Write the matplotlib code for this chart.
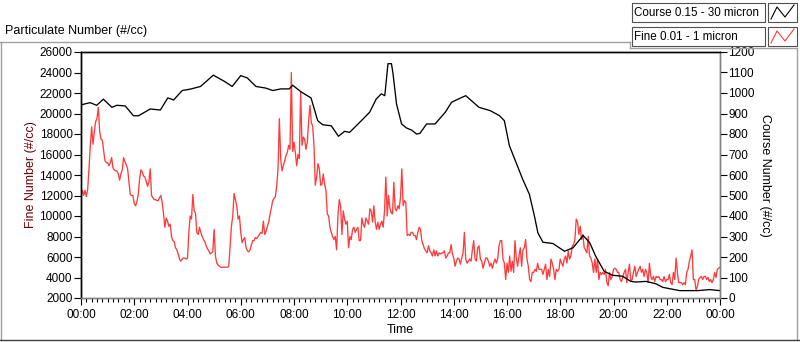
"""
Particulate number over one day: fine (left axis) and course (right axis).
Rendered with the Agg backend to out.png (800x342).
"""

import matplotlib
matplotlib.use("Agg")
import matplotlib.pyplot as plt
import numpy as np
from matplotlib.lines import Line2D
from matplotlib.patches import Rectangle
from matplotlib.ticker import MultipleLocator

plt.rcParams["font.family"] = ["Liberation Sans", "DejaVu Sans"]

# fine particles 0.01 - 1 micron, one reading every 3 minutes from 00:00
fine_step_min = 3
fine_values = [
    12000, 12500, 12000, 12500, 11900, 12600, 14600, 16900, 18700, 17000, 18200, 19200, 19500, 20600, 18300, 17500,
    17400, 16400, 15400, 15200, 15200, 14900, 15200, 15700, 14700, 14500, 14400, 14400, 14100, 13500, 14100, 14500,
    15700, 15300, 15000, 14600, 13400, 12100, 12000, 12000, 11200, 11000, 11400, 12100, 13600, 14500, 14300, 13900,
    13800, 13400, 12900, 13300, 14600, 12000, 11800, 11600, 11600, 11500, 11500, 11800, 12000, 11300, 10200, 8900,
    9800, 9500, 9000, 9200, 8000, 7600, 7500, 6900, 6700, 6300, 5800, 5600, 5800, 5900, 5900, 5800,
    5900, 8400, 10000, 9700, 12100, 10500, 10300, 8400, 8200, 8900, 8400, 8000, 7700, 7500, 7100, 6800,
    6600, 6300, 6400, 6500, 8700, 6100, 5400, 5200, 5100, 5000, 5000, 5000, 5000, 5000, 5000, 5100,
    7100, 9000, 10000, 12200, 11600, 11000, 9700, 10000, 8400, 7400, 7700, 7900, 6900, 6600, 6500, 6700,
    7200, 7600, 7600, 7900, 7800, 8000, 8200, 8400, 8300, 9500, 8200, 8500, 9000, 9400, 10200, 10800,
    11500, 11700, 11900, 12900, 14600, 19500, 15600, 14400, 14900, 15400, 15900, 16200, 16900, 16500, 24000, 16300,
    17200, 16200, 14900, 16000, 15600, 22100, 16900, 17700, 17500, 16500, 17200, 19300, 20800, 19100, 18800, 16900,
    13000, 13800, 15100, 14600, 13000, 13100, 14100, 13100, 12500, 10200, 10000, 8900, 8400, 8000, 7700, 8000,
    6700, 10000, 11600, 11000, 8200, 10500, 9700, 9200, 9500, 6900, 8000, 7700, 8700, 8900, 8400, 8700,
    8900, 7600, 7600, 9800, 9200, 8900, 9800, 9500, 9200, 10700, 10500, 9400, 11000, 9400, 8700, 9400,
    8700, 9200, 9500, 8900, 10500, 13800, 10000, 12000, 10800, 10300, 10200, 13300, 10700, 10500, 11000, 10700,
    11800, 14600, 11000, 11500, 11300, 8100, 8200, 8100, 8400, 8400, 8100, 8100, 7700, 8400, 8900, 8700,
    7600, 7200, 6800, 6600, 6400, 7100, 6600, 6400, 6100, 6700, 6100, 6600, 6100, 6400, 6300, 6400,
    6400, 6600, 5900, 6100, 6400, 6400, 7200, 6300, 5900, 5100, 5600, 5900, 5800, 5300, 5900, 6400,
    8400, 5800, 5400, 5600, 5800, 5600, 6700, 7600, 5800, 5600, 6900, 7100, 5800, 5600, 4900, 5400,
    5900, 5900, 5600, 5100, 5400, 4900, 5400, 5800, 5400, 5800, 7100, 7600, 7600, 5800, 5400, 3800,
    5400, 4500, 6100, 4600, 5600, 4500, 7600, 5800, 5100, 6100, 6900, 5100, 6700, 6900, 7700, 5800,
    5100, 3800, 3600, 4500, 4500, 4800, 4600, 5400, 4800, 4800, 4800, 4300, 4800, 5300, 3800, 4800,
    4100, 5800, 5400, 4800, 3800, 4800, 4600, 4800, 5800, 5400, 5100, 5800, 6100, 5400, 6600, 5800,
    6100, 7100, 7200, 7700, 9700, 9400, 8200, 9000, 7700, 8200, 6900, 6700, 6400, 8000, 6100, 5900,
    5400, 4500, 5800, 4500, 5800, 3800, 4500, 4300, 4500, 4300, 4800, 3500, 3200, 4500, 3800, 4100,
    4800, 4900, 4800, 4500, 4500, 3800, 3600, 4100, 4500, 4800, 3500, 4500, 5300, 3600, 3800, 4500,
    5100, 4100, 4500, 4800, 5100, 4500, 4800, 4100, 4800, 4500, 3500, 5400, 4100, 3800, 4100, 3600,
    4100, 4000, 4100, 3800, 3800, 3600, 4100, 3600, 3800, 3800, 4300, 3500, 3300, 4500, 3800, 5900,
    4500, 3500, 3500, 3500, 3300, 3500, 3300, 4500, 4800, 5600, 6100, 6700, 3800, 3800, 2800, 3100,
    3800, 4000, 4100, 3800, 4100, 4100, 3800, 4000, 3600, 3800, 3500, 3800, 4500, 4000, 4800, 4900,
    5000,
]

# course particles 0.15 - 30 micron (hour of day, #/cc)
course_hours = [
    0.00, 0.34, 0.59, 0.84, 1.16, 1.35, 1.66, 1.97, 2.16, 2.60, 2.98, 3.26, 3.48, 3.80, 4.11, 4.49,
    4.97, 5.37, 5.68, 6.00, 6.25, 6.57, 6.94, 7.20, 7.51, 7.82, 7.95, 8.26, 8.64, 8.89, 9.08, 9.40,
    9.67, 9.90, 10.09, 10.53, 10.84, 11.09, 11.28, 11.41, 11.53, 11.66, 11.72, 11.85, 12.04, 12.23, 12.42, 12.60,
    12.73, 12.98, 13.30, 13.68, 13.92, 14.18, 14.45, 14.95, 15.37, 15.71, 15.90, 16.09, 16.34, 16.59, 16.84, 17.03,
    17.16, 17.35, 17.72, 18.16, 18.48, 18.86, 19.11, 19.33, 19.65, 19.96, 20.34, 20.65, 20.84, 21.22, 21.60, 21.85,
    22.48, 23.17, 23.61, 24.00,
]
course_values = [
    942, 953, 940, 970, 930, 940, 937, 889, 889, 922, 917, 976, 966, 1012, 1019, 1032,
    1087, 1058, 1032, 1085, 1073, 1032, 1024, 1012, 1020, 1020, 1038, 1006, 976, 865, 845, 840,
    789, 813, 808, 865, 906, 971, 996, 987, 1143, 1143, 1094, 947, 849, 829, 819, 800,
    803, 849, 849, 906, 955, 971, 987, 930, 914, 890, 865, 743, 661, 579, 506, 400,
    318, 272, 266, 228, 245, 305, 269, 204, 130, 111, 106, 81, 78, 81, 69, 52,
    36, 36, 41, 36,
]

time_ticks = list(range(0, 25, 2))
time_labels = ["00:00", "02:00", "04:00", "06:00", "08:00", "10:00", "12:00",
               "14:00", "16:00", "18:00", "20:00", "22:00", "00:00"]
fine_ticks = list(range(2000, 26001, 2000))
course_ticks = list(range(0, 1201, 100))

W, H = 800, 342
fig = plt.figure(figsize=(W / 100, H / 100), dpi=100)
fig.patch.set_facecolor("white")


def fx(x):
    # 像素 -> figure 坐标
    return x / W


def fy(y):
    return 1 - y / H


def frame_line(x0, y0, x1, y1, color, lw=1.0):
    fig.add_artist(Line2D([fx(x0), fx(x1)], [fy(y0), fy(y1)], transform=fig.transFigure,
                          color=color, lw=lw))


# outer panel frame
frame_line(0, 42, 630, 42, "#a0a0a0")
frame_line(1, 42, 1, 340, "#a0a0a0")
frame_line(630, 42, 630, 48, "#a0a0a0")
frame_line(630, 48, 797, 48, "#a0a0a0")
frame_line(797, 48, 797, 340, "#a0a0a0")
frame_line(0, 340, 800, 340, "#404040")

fig.text(fx(5), fy(31), "Particulate Number (#/cc)", fontsize=9, ha="left", va="center")

ax = fig.add_axes([fx(81), fy(298), fx(720) - fx(81), fy(52) - fy(298)])
fine_hours = np.arange(len(fine_values)) * fine_step_min / 60
ax.plot(fine_hours, fine_values, color="#ff3b3b", lw=0.95)
ax.set_xlim(0, 24)
ax.set_ylim(2000, 26000)
ax.set_yticks(fine_ticks)
ax.set_xticks(time_ticks)
ax.set_xticklabels(time_labels)
ax.xaxis.set_minor_locator(MultipleLocator(0.2))
ax.tick_params(axis="y", direction="out", length=5, width=0.8, pad=1, labelsize=8.5)
ax.tick_params(axis="x", which="major", direction="out", length=5, width=0.8, pad=3, labelsize=8.5)
ax.tick_params(axis="x", which="minor", direction="out", length=3, width=0.8)

ax2 = ax.twinx()
ax2.plot(course_hours, course_values, color="black", lw=0.95)
ax2.set_ylim(0, 1200)
ax2.set_yticks(course_ticks)
ax2.tick_params(axis="y", direction="out", length=5, width=0.8, pad=1, labelsize=8.5)

for a in (ax, ax2):
    a.spines["left"].set_color("black")
    a.spines["top"].set_color("black")
    a.spines["right"].set_color("#808080")
    a.spines["bottom"].set_color("#808080")
    for s in a.spines.values():
        s.set_linewidth(1.0)

fig.text(fx(31), fy(175), "Fine Number (#/cc)", fontsize=9, rotation=90,
         ha="center", va="center", color="#6a0000")
fig.text(fx(765), fy(175), "Course Number (#/cc)", fontsize=9, rotation=270,
         ha="center", va="center", color="black")
fig.text(fx(400), fy(330), "Time", fontsize=9, ha="center", va="center")

# 图例：文字框 + 小图标
legend_items = [("Course 0.15 - 30 micron", "black", 3), ("Fine 0.01 - 1 micron", "#ff3b3b", 27)]
for label, color, top in legend_items:
    fig.add_artist(Rectangle((fx(632), fy(top + 19)), fx(765) - fx(632), fy(top) - fy(top + 19),
                             transform=fig.transFigure, facecolor="white", edgecolor="#505050", lw=0.8))
    fig.add_artist(Rectangle((fx(768), fy(top + 19)), fx(797) - fx(768), fy(top) - fy(top + 19),
                             transform=fig.transFigure, facecolor="white", edgecolor="#505050", lw=0.8))
    fig.text(fx(634), fy(top + 10), label, fontsize=8.4, ha="left", va="center")
    zx = [771, 777, 785, 794]
    zy = [top + 16, top + 4, top + 14, top + 2]
    fig.add_artist(Line2D([fx(v) for v in zx], [fy(v) for v in zy], transform=fig.transFigure,
                          color=color, lw=0.8))

fig.savefig("out.png", dpi=100)
plt.close(fig)
